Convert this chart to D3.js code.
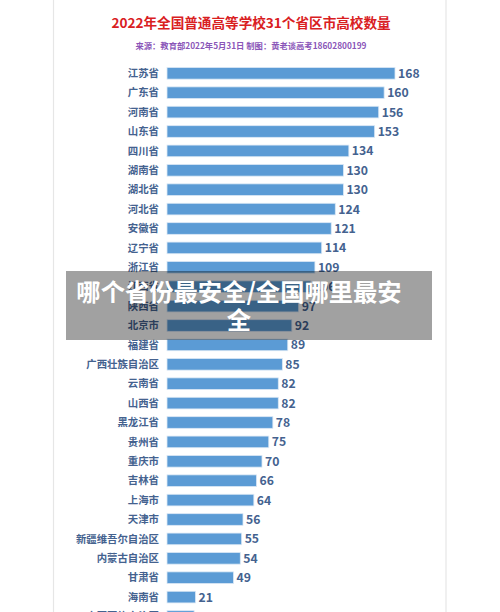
<!DOCTYPE html>
<html>
<head>
<meta charset="utf-8">
<script src="https://cdn.jsdelivr.net/npm/d3@7"></script>
<style>
html,body{margin:0;padding:0;background:#fff;overflow:hidden;}
svg{display:block;font-family:"Noto Sans CJK SC","Noto Sans",sans-serif;}
</style>
</head>
<body>
<svg id="chart" width="500" height="612"></svg>
<script>
const titleText = "2022年全国普通高等学校31个省区市高校数量";
const subtitleText = "来源：教育部2022年5月31日  制图：黄老谈高考18602800199";
const bannerLines = ["哪个省份最安全/全国哪里最安", "全"];
const provinces = ["江苏省","广东省","河南省","山东省","四川省","湖南省","湖北省","河北省","安徽省","辽宁省","浙江省","江西省","陕西省","北京市","福建省","广西壮族自治区","云南省","山西省","黑龙江省","贵州省","重庆市","吉林省","上海市","天津市","新疆维吾尔自治区","内蒙古自治区","甘肃省","海南省","宁夏回族自治区","青海省","西藏自治区"];
const counts = [168,160,156,153,134,130,130,124,121,114,109,106,97,92,89,85,82,82,78,75,70,66,64,56,55,54,49,21,20,12,7];

const svg = d3.select("#chart");

// card
svg.append("rect").attr("x",53.5).attr("y",-2).attr("width",392.5).attr("height",700)
  .attr("fill","#fff").attr("stroke","#e6e6e6").attr("stroke-width",1.2);

svg.append("text").attr("x",251).attr("y",28).attr("text-anchor","middle")
  .attr("font-size",13.6).attr("font-weight","bold").attr("fill","#d9201f").text(titleText);
svg.append("text").attr("x",251).attr("y",49).attr("text-anchor","middle")
  .attr("font-size",8.3).attr("font-weight","bold").attr("fill","#8a55b8").text(subtitleText);

const y = d3.scaleBand().domain(provinces).range([63.6, 63.6 + 31*19.4])
  .paddingInner(0.4).paddingOuter(0.2);
const x = d3.scaleLinear().domain([0,168]).range([167,395]);

const data = provinces.map((p,i)=>({p, v: counts[i]}));

svg.append("g").selectAll("rect").data(data).join("rect")
  .attr("x", x(0)).attr("y", d=>y(d.p)).attr("width", d=>x(d.v)-x(0)).attr("height", y.bandwidth())
  .attr("fill","#5b9bd5").attr("stroke","#dbe8f5").attr("stroke-width",0.8);

svg.append("g").selectAll("text").data(data).join("text")
  .attr("x",159).attr("y", d=>y(d.p)+y.bandwidth()/2).attr("dy","0.36em")
  .attr("text-anchor","end").attr("font-size",10.4).attr("font-weight","bold").attr("fill","#44628f")
  .text(d=>d.p);

svg.append("g").selectAll("text").data(data).join("text")
  .attr("x", d=>x(d.v)+3).attr("y", d=>y(d.p)+y.bandwidth()/2).attr("dy","0.37em")
  .attr("font-size",12.2).attr("font-weight","bold").attr("fill","#44628f")
  .text(d=>d.v);

// overlay banner
svg.append("rect").attr("x",66).attr("y",271).attr("width",366).attr("height",69)
  .attr("fill","rgba(0,0,0,0.37)");
svg.append("g").selectAll("text").data(bannerLines).join("text")
  .attr("x",239).attr("y",(d,i)=>292+i*28).attr("dy","0.36em").attr("text-anchor","middle")
  .attr("font-size",24.3).attr("font-weight","bold").attr("fill","#fff").text(d=>d);
</script>
</body>
</html>
